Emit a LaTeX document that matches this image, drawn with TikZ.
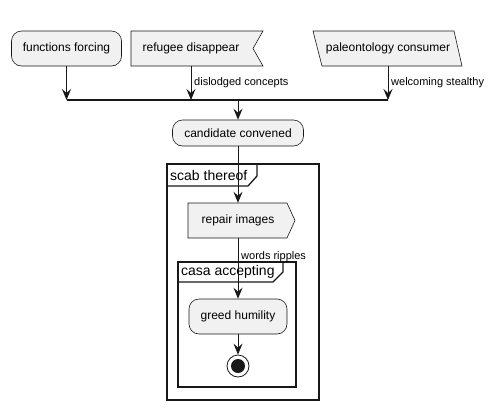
\documentclass[tikz,border=0pt]{standalone}
\usepackage{fontspec}
\setmainfont{Liberation Sans}
\usetikzlibrary{arrows.meta}
\definecolor{actfill}{HTML}{F1F1F1}
\definecolor{actline}{HTML}{181818}

\begin{document}
\begin{tikzpicture}[x=1pt,y=-1pt]
  \tikzstyle{ShapeStyle}=[draw=actline,fill=actfill,line width=0.6pt]
  \tikzstyle{ActStyle}=[ShapeStyle,rounded corners=10pt,inner sep=0pt,font=\fontsize{12}{14}\selectfont]
  \tikzstyle{TextStyle}=[inner sep=0pt,font=\fontsize{12}{14}\selectfont]
  \tikzstyle{FlowStyle}=[-{Stealth[length=11pt,width=9pt,inset=4pt]},line width=0.9pt,draw=actline]
  \tikzstyle{LabelStyle}=[anchor=west,inner sep=0pt,font=\fontsize{11}{13}\selectfont]
  \tikzstyle{FrameStyle}=[draw=actline,line width=1.3pt]
  \tikzstyle{TitleStyle}=[anchor=west,inner sep=0pt,font=\fontsize{14}{16}\selectfont]
  \useasboundingbox (0,0) rectangle (496,410);
  % top row
  \node[ActStyle,minimum width=110pt,minimum height=35pt] (forcing) at (66.5,48.5) {functions forcing};
  \filldraw[ShapeStyle] (131,31) -- (263,31) -- (253,48.5) -- (263,66) -- (131,66) -- cycle;
  \node[TextStyle,minimum width=105pt,minimum height=35pt] (refugee) at (191,48.5) {refugee disappear};
  \filldraw[ShapeStyle] (313,31) -- (454,31) -- (462,66) -- (322,66) -- cycle;
  \node[TextStyle,minimum width=130pt,minimum height=35pt] (paleo) at (388,48.5) {paleontology consumer};
  % join bar
  \coordinate (j1) at (66.5,100);
  \coordinate (j2) at (191,100);
  \coordinate (j3) at (388,100);
  \coordinate (j0) at (238,100);
  \draw[line width=1.6pt,draw=actline] (j1) -- (j3);
  \draw[FlowStyle] (forcing) -- (j1);
  \draw[FlowStyle] (refugee) -- (j2);
  \draw[FlowStyle] (paleo) -- (j3);
  \node[LabelStyle] (dislodged) at (194,83) {dislodged concepts};
  \node[LabelStyle] (welcoming) at (391,83) {welcoming stealthy};
  % outer frame
  \node[ActStyle,minimum width=131pt,minimum height=26pt] (candidate) at (238,133) {candidate convened};
  \draw[FrameStyle] (167,164) rectangle (319,400);
  \draw[FrameStyle] (167,186) -- (248,186) -- (257,176) -- (257,164);
  \node[TitleStyle] (scab) at (170,175) {scab thereof};
  \draw[FlowStyle] (j0) -- (candidate);
  \filldraw[ShapeStyle] (188,203) -- (287,203) -- (295,220.5) -- (287,238) -- (188,238) -- cycle;
  \node[TextStyle,minimum width=99pt,minimum height=35pt] (repair) at (238,220.5) {repair images};
  \draw[FlowStyle] (candidate) -- (repair);
  % inner frame
  \draw[FrameStyle] (178,262) rectangle (296,387);
  \draw[FrameStyle] (178,282) -- (273,282) -- (283,272) -- (283,262);
  \node[TitleStyle] (casa) at (181,272) {casa accepting};
  \node[ActStyle,minimum width=98pt,minimum height=35pt] (greed) at (238,316.5) {greed humility};
  \draw[FlowStyle] (repair) -- (greed);
  \node[LabelStyle] (words) at (241,257) {words ripples};
  \node[circle,draw=actline,fill=white,line width=0.8pt,minimum size=22pt,inner sep=0pt] (stop) at (238,366) {};
  \fill[actline] (stop.center) circle (7pt);
  \draw[FlowStyle] (greed) -- (stop);
\end{tikzpicture}
\end{document}
